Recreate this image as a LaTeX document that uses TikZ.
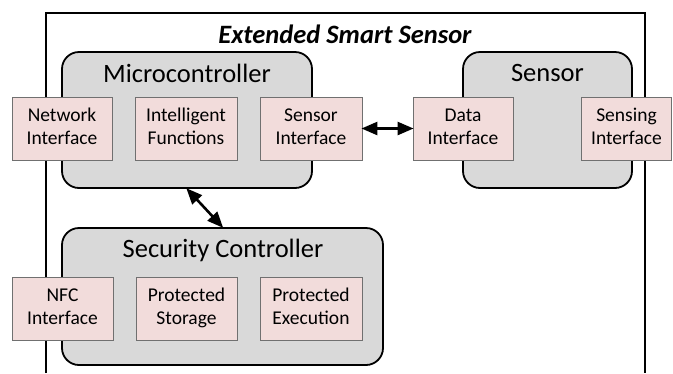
\documentclass[tikz,border=0pt]{standalone}
\usepackage{fontspec}
\setmainfont{Carlito}
\usetikzlibrary{arrows.meta}
\definecolor{boxgray}{HTML}{D9D9D9}
\definecolor{boxpink}{HTML}{F2DCDB}
\definecolor{edgegray}{HTML}{707070}
\newcommand{\twolines}[2]{\strut #1\\\strut #2}
\begin{document}
\begin{tikzpicture}[x=1pt,y=-1pt,
  bigbox/.style={draw=black, line width=1.8pt, fill=boxgray, rounded corners=17pt, inner sep=0pt},
  smallbox/.style={draw=edgegray, line width=0.9pt, fill=boxpink, minimum height=63pt, inner sep=0pt, align=center, font=\fontsize{19.5}{23}\selectfont},
  bigtitle/.style={inner sep=0pt, font=\fontsize{26.5}{30}\selectfont},
  outer/.style={draw=black, line width=1.6pt},
  dblarrow/.style={line width=2.6pt, {Triangle[length=16pt,width=13pt]}-{Triangle[length=16pt,width=13pt]}, shorten <=-1pt, shorten >=-1pt}]
\useasboundingbox (0,0) rectangle (673,373);
\fill[white] (0,0) rectangle (673,373);
% outer frame
\coordinate (obl) at (46,373);
\coordinate (obr) at (645,373);
\draw[outer] (obl) -- (46,13) -- (645,13) -- (obr);
\node[inner sep=0pt, font=\fontsize{26.5}{30}\selectfont\bfseries\itshape] (title) at (345,34) {Extended Smart Sensor};
% big rounded boxes
\node[bigbox, minimum width=250pt, minimum height=136pt] (mc) at (187,120) {};
\node[bigbox, minimum width=169pt, minimum height=136pt] (sensor) at (547.5,120) {};
\node[bigbox, minimum width=321pt, minimum height=137pt] (sec) at (222.5,296.5) {};
\node[bigtitle] (mct) at (187,73) {Microcontroller};
\node[bigtitle] (sensort) at (547.5,73) {Sensor};
\node[bigtitle] (sect) at (223,250) {Security Controller};
% small boxes
\node[smallbox, minimum width=100pt] (ni) at (62,128.5) {\twolines{Network}{Interface}};
\node[smallbox, minimum width=102pt] (ifn) at (186,128.5) {\twolines{Intelligent}{Functions}};
\node[smallbox, minimum width=102pt] (si) at (311,128.5) {\twolines{Sensor}{Interface}};
\node[smallbox, minimum width=100pt] (di) at (463,128.5) {\twolines{Data}{Interface}};
\node[smallbox, minimum width=90pt] (sn) at (626.5,128.5) {\twolines{Sensing}{Interface}};
\node[smallbox, minimum width=101pt] (nfc) at (62.5,308.5) {\twolines{NFC}{Interface}};
\node[smallbox, minimum width=101pt] (ps) at (186.5,308.5) {\twolines{Protected}{Storage}};
\node[smallbox, minimum width=102pt] (pe) at (311,308.5) {\twolines{Protected}{Execution}};
% connectors
\draw[dblarrow] (si.east) -- (di.west);
\draw[dblarrow] (mc.south) -- (sec.north);
\end{tikzpicture}
\end{document}
